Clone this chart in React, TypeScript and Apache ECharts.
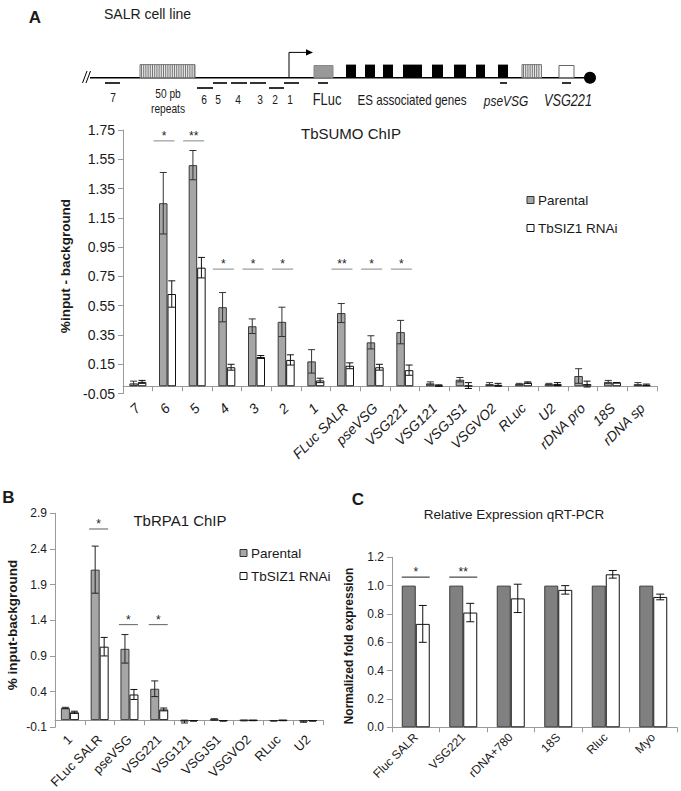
import React, { useEffect, useRef } from "react";
import * as echarts from "echarts";

// ---------- Panel A data (TbSUMO ChIP) ----------
const catsA = ["7", "6", "5", "4", "3", "2", "1", "FLuc SALR", "pseVSG", "VSG221", "VSG121", "VSGJS1", "VSGVO2", "RLuc", "U2", "rDNA pro", "18S", "rDNA sp"];
const parA = [0.02, 1.25, 1.51, 0.54, 0.41, 0.44, 0.17, 0.5, 0.3, 0.37, 0.02, 0.045, 0.015, 0.015, 0.015, 0.07, 0.03, 0.015];
const parAErr = [0.015, 0.21, 0.1, 0.1, 0.05, 0.1, 0.08, 0.065, 0.045, 0.08, 0.01, 0.015, 0.01, 0.005, 0.005, 0.05, 0.01, 0.01];
const rnaA = [0.03, 0.63, 0.81, 0.13, 0.2, 0.18, 0.04, 0.14, 0.13, 0.11, 0.005, 0.005, 0.01, 0.025, 0.015, 0.015, 0.025, 0.01];
const rnaAErr = [0.01, 0.09, 0.07, 0.02, 0.01, 0.035, 0.015, 0.02, 0.02, 0.035, 0.005, 0.02, 0.01, 0.005, 0.01, 0.02, 0.0, 0.005];
const sigAIdx = [1, 2, 3, 4, 5, 7, 8, 9];
const sigAHeight = [1.676, 1.676, 0.8, 0.8, 0.8, 0.8, 0.8, 0.8];
const sigALabel = ["*", "**", "*", "*", "*", "**", "*", "*"];

// ---------- Panel B data (TbRPA1 ChIP) ----------
const catsB = ["1", "FLuc SALR", "pseVSG", "VSG221", "VSG121", "VSGJS1", "VSGVO2", "RLuc", "U2"];
const parB = [0.17, 2.11, 1.0, 0.44, -0.02, 0.01, -0.005, -0.01, -0.02];
const parBErr = [0.01, 0.33, 0.2, 0.11, 0.02, 0.01, 0.005, 0.005, 0.01];
const rnaB = [0.11, 1.03, 0.36, 0.15, -0.01, -0.01, -0.005, -0.005, -0.01];
const rnaBErr = [0.015, 0.13, 0.07, 0.02, 0.005, 0.005, 0.003, 0.003, 0.005];
const sigBIdx = [1, 2, 3];
const sigBHeight = [2.68, 1.34, 1.34];
const sigBLabel = ["*", "*", "*"];

// ---------- Panel C data (Relative Expression qRT-PCR) ----------
const catsC = ["Fluc SALR", "VSG221", "rDNA+780", "18S", "Rluc", "Myo"];
const parC = [1, 1, 1, 1, 1, 1];
const rnaC = [0.73, 0.81, 0.91, 0.97, 1.08, 0.92];
const rnaCErr = [0.13, 0.065, 0.1, 0.03, 0.027, 0.02];
const sigCIdx = [0, 1];
const sigCHeight = [1.06, 1.06];
const sigCLabel = ["*", "**"];

const FF = "'Liberation Sans', Arial, sans-serif";
const AXIS_GRAY = "#9a9a9a";

function txt(text: string, x: number, y: number, o: any = {}) {
  return {
    type: "text",
    x,
    y,
    rotation: o.rotation || 0,
    scaleX: o.scaleX || 1,
    z: 100,
    style: {
      text,
      fontSize: o.fontSize || 14,
      fontFamily: FF,
      fontWeight: o.fontWeight || "normal",
      fontStyle: o.fontStyle || "normal",
      fill: o.fill || "#1a1a1a",
      align: o.align || "center",
      textAlign: o.align || "center",
      verticalAlign: "middle",
      textVerticalAlign: "middle",
    },
  };
}

function errRender(offset: number, cap: number, color: string) {
  return (params: any, api: any) => {
    const x = api.value(0);
    const v = api.value(1);
    const e = api.value(2);
    const pTop = api.coord([x, v + e]);
    const pBot = api.coord([x, v - e]);
    const cx = pTop[0] + offset;
    const st = { stroke: color, lineWidth: 1 };
    return {
      type: "group",
      children: [
        { type: "line", shape: { x1: cx, y1: pTop[1], x2: cx, y2: pBot[1] }, style: st },
        { type: "line", shape: { x1: cx - cap, y1: pTop[1], x2: cx + cap, y2: pTop[1] }, style: st },
        { type: "line", shape: { x1: cx - cap, y1: pBot[1], x2: cx + cap, y2: pBot[1] }, style: st },
      ],
    };
  };
}

function sigRender(labels: string[], x0: number, x1: number, color: string, fs: number) {
  return (params: any, api: any) => {
    const p = api.coord([api.value(0), api.value(1)]);
    const a = p[0] + x0;
    const b = p[0] + x1;
    return {
      type: "group",
      children: [
        { type: "line", shape: { x1: a, y1: p[1], x2: b, y2: p[1] }, style: { stroke: color, lineWidth: 1.2 } },
        {
          type: "text",
          x: (a + b) / 2,
          y: p[1] - 5,
          style: {
            text: labels[params.dataIndex],
            fontSize: fs,
            fontFamily: FF,
            fill: "#222",
            align: "center",
            verticalAlign: "middle",
          },
        },
      ],
    };
  };
}

function hatch(x: number, y: number, w: number, h: number) {
  const els: any[] = [
    { type: "rect", shape: { x, y, width: w, height: h }, style: { fill: "#e6e6e6", stroke: "#777", lineWidth: 1 } },
  ];
  for (let xx = x + 1.5; xx < x + w - 0.5; xx += 2.2) {
    els.push({ type: "line", shape: { x1: xx, y1: y, x2: xx, y2: y + h }, style: { stroke: "#6a6a6a", lineWidth: 0.9 } });
  }
  return els;
}

function buildDiagram() {
  const els: any[] = [];
  const LY = 77.7;
  els.push({ type: "line", shape: { x1: 90, y1: LY, x2: 586, y2: LY }, style: { stroke: "#000", lineWidth: 1.5 } });
  els.push({ type: "line", shape: { x1: 82.5, y1: 83, x2: 87, y2: 71 }, style: { stroke: "#000", lineWidth: 1 } });
  els.push({ type: "line", shape: { x1: 86, y1: 83, x2: 90.5, y2: 71 }, style: { stroke: "#000", lineWidth: 1 } });
  els.push({ type: "circle", shape: { cx: 590, cy: LY, r: 6 }, style: { fill: "#000" } });
  els.push(...hatch(140, 64.6, 55, 13.1));
  els.push(...hatch(522, 64.6, 19.5, 13.1));
  els.push({ type: "rect", shape: { x: 314, y: 65.5, width: 19, height: 12.2 }, style: { fill: "#999", stroke: "#888", lineWidth: 1 } });
  const blacks = [[346, 10], [365, 10], [383, 10], [403, 19], [432, 11], [454, 12], [476, 9], [498, 10]];
  blacks.forEach(([bx, bw]) => {
    els.push({ type: "rect", shape: { x: bx, y: 64.6, width: bw, height: 13.1 }, style: { fill: "#000" } });
  });
  els.push({ type: "rect", shape: { x: 559, y: 65.5, width: 15, height: 12.2 }, style: { fill: "#fff", stroke: "#666", lineWidth: 1 } });
  els.push({ type: "polyline", shape: { points: [[289, LY], [289, 52.4], [307, 52.4]] }, style: { stroke: "#000", lineWidth: 1, fill: null } });
  els.push({ type: "polygon", shape: { points: [[306, 49.3], [313, 52.4], [306, 55.5]] }, style: { fill: "#000" } });
  const probes = [[105, 120, 83], [197, 213, 88], [213, 227, 83], [231, 247, 83], [250, 266, 83], [269, 284, 88], [284, 299, 83], [318, 328, 83], [500, 507, 83], [562, 571, 83]];
  probes.forEach(([a, b, y]) => {
    els.push({ type: "line", shape: { x1: a, y1: y, x2: b, y2: y }, style: { stroke: "#000", lineWidth: 1.6 } });
  });
  const small = { fontSize: 12, scaleX: 0.85 };
  els.push(txt("7", 113, 98, small));
  els.push(txt("50 pb", 168, 94, small));
  els.push(txt("repeats", 168, 109, small));
  [["6", 204], ["5", 218], ["4", 238], ["3", 260], ["2", 275], ["1", 290]].forEach(([t, x]) => {
    els.push(txt(t as string, x as number, 100, small));
  });
  els.push(txt("FLuc", 327, 99, { fontSize: 17, scaleX: 0.76 }));
  els.push(txt("ES associated genes", 412, 100, { fontSize: 14.5, scaleX: 0.8 }));
  els.push(txt("pseVSG", 506, 100, { fontSize: 15.5, scaleX: 0.77, fontStyle: "italic" }));
  els.push(txt("VSG221", 568, 100, { fontSize: 16.5, scaleX: 0.77, fontStyle: "italic" }));
  els.push(txt("A", 35, 17, { fontSize: 17, fontWeight: "bold" }));
  els.push(txt("SALR cell line", 104, 14, { fontSize: 14, align: "left" }));
  return els;
}

function legend(x: number, y1: number, y2: number, fillP: string) {
  return [
    { type: "rect", shape: { x, y: y1 - 3.5, width: 7, height: 7 }, style: { fill: fillP, stroke: "#333", lineWidth: 1 } },
    txt("Parental", x + 11, y1, { fontSize: 13.5, align: "left" }),
    { type: "rect", shape: { x, y: y2 - 3.5, width: 7, height: 7 }, style: { fill: "#fff", stroke: "#111", lineWidth: 1 } },
    txt("TbSIZ1 RNAi", x + 11, y2, { fontSize: 13.5, align: "left" }),
  ];
}

function xAxisCfg(gridIndex: number, data: string[], fs: number, italic: boolean, margin: number) {
  return {
    gridIndex,
    type: "category",
    data,
    axisLine: { onZero: true, lineStyle: { color: AXIS_GRAY, width: 1 } },
    axisTick: { show: true, length: 5, lineStyle: { color: AXIS_GRAY } },
    axisLabel: {
      rotate: 45,
      interval: 0,
      fontSize: fs,
      fontFamily: FF,
      fontStyle: italic ? "italic" : "normal",
      color: "#1a1a1a",
      margin,
    },
    splitLine: { show: false },
  };
}

function yAxisCfg(gridIndex: number, min: number, max: number, interval: number, digits: number, fs: number) {
  return {
    gridIndex,
    type: "value",
    min,
    max,
    interval,
    axisLine: { show: true, lineStyle: { color: AXIS_GRAY, width: 1 } },
    axisTick: { show: true, length: 5, lineStyle: { color: AXIS_GRAY } },
    splitLine: { show: false },
    axisLabel: {
      fontSize: fs,
      fontFamily: FF,
      color: "#1a1a1a",
      margin: 8,
      formatter: (v: number) => v.toFixed(digits),
    },
  };
}

export default function App() {
  const ref = useRef<HTMLDivElement>(null);
  useEffect(() => {
    if (!ref.current) return;
    const chart = echarts.init(ref.current, null, { renderer: "svg" });
    const wA = 8.5;
    const wB = 9;
    const wC = 14;
    const barP = (color: string) => ({ color, borderColor: "#3a3a3a", borderWidth: 1 });
    const barR = { color: "#ffffff", borderColor: "#111", borderWidth: 1 };

    const graphic: any[] = [
      ...buildDiagram(),
      txt("TbSUMO ChIP", 351, 133, { fontSize: 15 }),
      ...legend(527, 200, 228, "#a6a6a6"),
      txt("%input - background", 65, 266, { fontSize: 13.5, fontWeight: "bold", rotation: Math.PI / 2 }),
      txt("B", 8.5, 497, { fontSize: 17, fontWeight: "bold" }),
      txt("TbRPA1 ChIP", 180, 520, { fontSize: 15 }),
      ...legend(240, 553, 576, "#a6a6a6"),
      txt("% input-background", 12, 625, { fontSize: 13.5, fontWeight: "bold", rotation: Math.PI / 2 }),
      txt("C", 358, 499, { fontSize: 17, fontWeight: "bold" }),
      txt("Relative Expression qRT-PCR", 514, 514, { fontSize: 13.5 }),
      txt("Normalized fold expression", 348.5, 646, { fontSize: 12, fontWeight: "bold", rotation: Math.PI / 2 }),
    ];

    const option: any = {
      animation: false,
      backgroundColor: "#ffffff",
      grid: [
        { left: 123, top: 130, width: 534, height: 263.6 },
        { left: 55, top: 513.3, width: 268, height: 222.7 },
        { left: 392, top: 557.3, width: 285, height: 170 },
      ],
      xAxis: [
        xAxisCfg(0, catsA, 14, true, 12),
        xAxisCfg(1, catsB, 13, false, 10),
        xAxisCfg(2, catsC, 12, false, 8),
      ],
      yAxis: [
        yAxisCfg(0, -0.05, 1.75, 0.2, 2, 14),
        yAxisCfg(1, -0.1, 2.9, 0.5, 1, 12),
        yAxisCfg(2, 0, 1.2, 0.2, 1, 12),
      ],
      series: [
        // Panel A
        { name: "Parental", type: "bar", xAxisIndex: 0, yAxisIndex: 0, data: parA, barWidth: wA, barGap: "0%", itemStyle: barP("#a6a6a6") },
        { name: "TbSIZ1 RNAi", type: "bar", xAxisIndex: 0, yAxisIndex: 0, data: rnaA, barWidth: wA, barGap: "0%", itemStyle: barR },
        { type: "custom", xAxisIndex: 0, yAxisIndex: 0, z: 5, renderItem: errRender(-wA / 2, 3.5, "#333"), data: parA.map((v, i) => [i, v, parAErr[i]]) },
        { type: "custom", xAxisIndex: 0, yAxisIndex: 0, z: 5, renderItem: errRender(wA / 2, 3.5, "#111"), data: rnaA.map((v, i) => [i, v, rnaAErr[i]]) },
        { type: "custom", xAxisIndex: 0, yAxisIndex: 0, z: 6, renderItem: sigRender(sigALabel, -14, 7, "#9a9a9a", 12), data: sigAIdx.map((c, i) => [c, sigAHeight[i]]) },
        // Panel B
        { name: "Parental", type: "bar", xAxisIndex: 1, yAxisIndex: 1, data: parB, barWidth: wB, barGap: "0%", itemStyle: barP("#a6a6a6") },
        { name: "TbSIZ1 RNAi", type: "bar", xAxisIndex: 1, yAxisIndex: 1, data: rnaB, barWidth: wB, barGap: "0%", itemStyle: barR },
        { type: "custom", xAxisIndex: 1, yAxisIndex: 1, z: 5, renderItem: errRender(-wB / 2, 3.5, "#222"), data: parB.map((v, i) => [i, v, parBErr[i]]) },
        { type: "custom", xAxisIndex: 1, yAxisIndex: 1, z: 5, renderItem: errRender(wB / 2, 3.5, "#111"), data: rnaB.map((v, i) => [i, v, rnaBErr[i]]) },
        { type: "custom", xAxisIndex: 1, yAxisIndex: 1, z: 6, renderItem: sigRender(sigBLabel, -10.5, 8.5, "#777", 12), data: sigBIdx.map((c, i) => [c, sigBHeight[i]]) },
        // Panel C
        { name: "Parental", type: "bar", xAxisIndex: 2, yAxisIndex: 2, data: parC, barWidth: wC, barGap: "0%", itemStyle: barP("#808080") },
        { name: "TbSIZ1 RNAi", type: "bar", xAxisIndex: 2, yAxisIndex: 2, data: rnaC, barWidth: wC, barGap: "0%", itemStyle: barR },
        { type: "custom", xAxisIndex: 2, yAxisIndex: 2, z: 5, renderItem: errRender(wC / 2, 4, "#111"), data: rnaC.map((v, i) => [i, v, rnaCErr[i]]) },
        { type: "custom", xAxisIndex: 2, yAxisIndex: 2, z: 6, renderItem: sigRender(sigCLabel, -14, 14, "#444", 12), data: sigCIdx.map((c, i) => [c, sigCHeight[i]]) },
      ],
      graphic,
    };
    chart.setOption(option);
    return () => chart.dispose();
  }, []);
  return (
    <div
      ref={ref}
      style={{ position: "absolute", left: 0, top: 0, width: 681, height: 791, background: "#fff" }}
    />
  );
}
